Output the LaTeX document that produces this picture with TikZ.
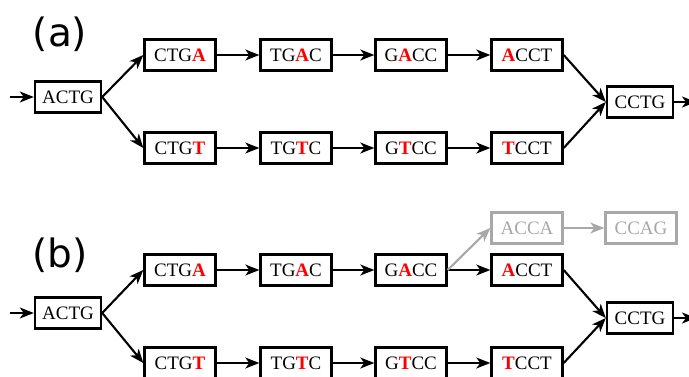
\documentclass[tikz,border=0pt]{standalone}
\usepackage{fontspec}
\newfontfamily\labfont{DejaVu Sans}
\newfontfamily\seqfont{Liberation Serif}
\usetikzlibrary{arrows.meta}
\definecolor{lgray}{RGB}{168,168,168}
\tikzset{
 seq/.style={draw=black, line width=2.4pt, minimum width=71pt, minimum height=31pt, inner sep=0pt, font=\seqfont\fontsize{19}{19}\selectfont, fill=white},
 nseq/.style={seq, minimum width=66pt},
 gseq/.style={seq, draw=lgray, text=lgray},
 arr/.style={-{Stealth[length=14pt,width=11pt,inset=4pt]}, line width=2.1pt},
 garr/.style={arr, draw=lgray},
 panel/.style={font=\labfont\fontsize{39}{39}\selectfont, inner sep=0pt}
}
\newcommand\Rd[1]{\textcolor{red}{\textbf{#1}}}
\begin{document}
\begin{tikzpicture}[x=1pt,y=-1pt]
\clip (0,0) rectangle (689,377);
\useasboundingbox (0,0) rectangle (689,377);
% panel (a)
\node[panel] (la) at (60,34) {(a)};
\node[nseq] (a0) at (68,97) {ACTG};
\node[seq] (a1) at (180,55) {CTG\Rd{A}};
\node[seq] (a2) at (296,55) {TG\Rd{A}C};
\node[seq] (a3) at (411,55) {G\Rd{A}CC};
\node[seq] (a4) at (527,55) {\Rd{A}CCT};
\node[seq] (b1) at (180,148) {CTG\Rd{T}};
\node[seq] (b2) at (296,148) {TG\Rd{T}C};
\node[seq] (b3) at (411,148) {G\Rd{T}CC};
\node[seq] (b4) at (527,148) {\Rd{T}CCT};
\node[nseq] (a5) at (640,102) {CCTG};
\coordinate (ain) at (10,97);
\coordinate (aout) at (696,102);
\draw[arr] (ain) -- (a0.west);
\draw[arr] (a0.east) -- (a1.west);
\draw[arr] (a0.east) -- (b1.west);
\draw[arr] (a1) -- (a2);
\draw[arr] (a2) -- (a3);
\draw[arr] (a3) -- (a4);
\draw[arr] (b1) -- (b2);
\draw[arr] (b2) -- (b3);
\draw[arr] (b3) -- (b4);
\draw[arr] (a4.east) -- (a5.west);
\draw[arr] (b4.east) -- (a5.west);
\draw[arr] (a5.east) -- (aout);
% panel (b)
\node[panel] (lb) at (60,255) {(b)};
\node[nseq] (c0) at (68,313) {ACTG};
\node[seq] (c1) at (180,270) {CTG\Rd{A}};
\node[seq] (c2) at (296,270) {TG\Rd{A}C};
\node[seq] (c3) at (411,270) {G\Rd{A}CC};
\node[seq] (c4) at (527,270) {\Rd{A}CCT};
\node[gseq] (g1) at (527,228) {ACCA};
\node[gseq] (g2) at (641,228) {CCAG};
\node[seq] (d1) at (180,363) {CTG\Rd{T}};
\node[seq] (d2) at (296,363) {TG\Rd{T}C};
\node[seq] (d3) at (411,363) {G\Rd{T}CC};
\node[seq] (d4) at (527,363) {\Rd{T}CCT};
\node[nseq] (c5) at (640,318) {CCTG};
\coordinate (cin) at (10,313);
\coordinate (cout) at (696,318);
\draw[arr] (cin) -- (c0.west);
\draw[arr] (c0.east) -- (c1.west);
\draw[arr] (c0.east) -- (d1.west);
\draw[arr] (c1) -- (c2);
\draw[arr] (c2) -- (c3);
\draw[arr] (c3) -- (c4);
\draw[garr] (c3.east) -- (g1.west);
\draw[garr] (g1) -- (g2);
\draw[arr] (d1) -- (d2);
\draw[arr] (d2) -- (d3);
\draw[arr] (d3) -- (d4);
\draw[arr] (c4.east) -- (c5.west);
\draw[arr] (d4.east) -- (c5.west);
\draw[arr] (c5.east) -- (cout);
\end{tikzpicture}
\end{document}
